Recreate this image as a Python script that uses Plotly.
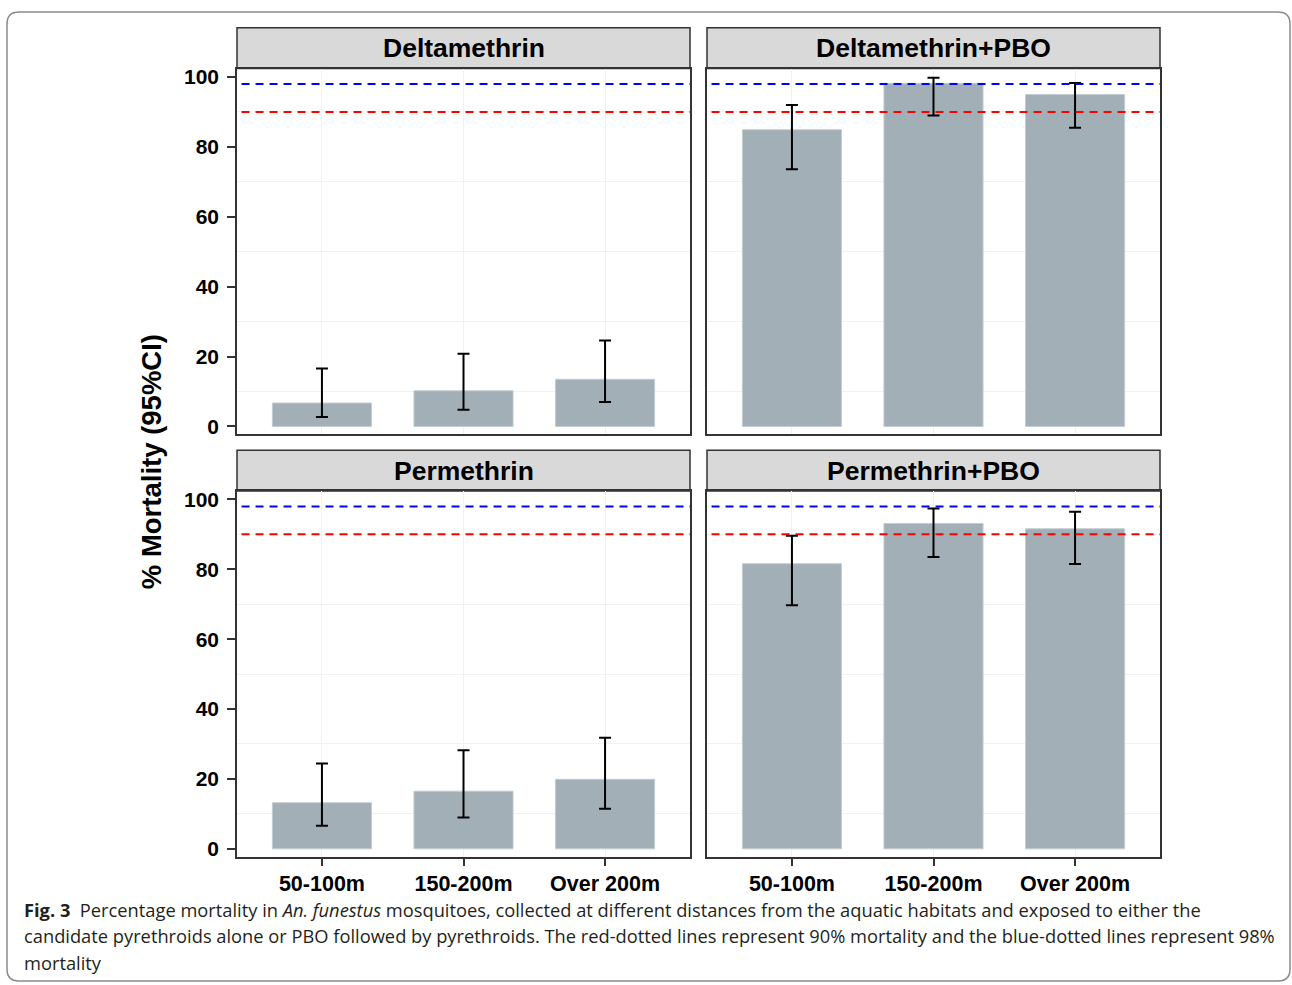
import plotly.graph_objects as go

W, H = 1292, 985

categories = ["50-100m", "150-200m", "Over 200m"]
panels = ["Deltamethrin", "Deltamethrin+PBO", "Permethrin", "Permethrin+PBO"]
mortality = {
    "Deltamethrin": [6.7, 10.2, 13.5],
    "Deltamethrin+PBO": [84.9, 98.2, 95.0],
    "Permethrin": [13.2, 16.5, 19.9],
    "Permethrin+PBO": [81.6, 93.1, 91.6],
}
ci_upper = {
    "Deltamethrin": [16.6, 20.8, 24.6],
    "Deltamethrin+PBO": [92.0, 99.8, 98.3],
    "Permethrin": [24.4, 28.2, 31.8],
    "Permethrin+PBO": [89.6, 97.4, 96.5],
}
ci_lower = {
    "Deltamethrin": [2.7, 4.8, 7.0],
    "Deltamethrin+PBO": [73.6, 89.0, 85.5],
    "Permethrin": [6.6, 9.0, 11.5],
    "Permethrin+PBO": [69.7, 83.5, 81.5],
}
threshold_90 = 90
threshold_98 = 98
y_ticks = [0, 20, 40, 60, 80, 100]

def px(x):
    return x / W

def py(y):
    return 1 - y / H

# pixel layout of panels: (x0, x1) columns, (y_top, y_bottom) rows of plot areas
col_x = [(237, 690), (707, 1160)]
row_y = [(66, 434), (491, 859)]
strip_h = 41

fig = go.Figure()
BAR = "#a3afb6"
EDGE = "#333333"

for i, name in enumerate(panels):
    r, c = divmod(i, 2)
    ax = "" if i == 0 else str(i + 1)
    vals = mortality[name]
    up = [u - v for u, v in zip(ci_upper[name], vals)]
    dn = [v - l for v, l in zip(vals, ci_lower[name])]
    fig.add_trace(go.Bar(
        x=categories, y=vals, width=0.7,
        marker=dict(color=BAR, line=dict(color="#c3ccd1", width=1)),
        error_y=dict(type="data", symmetric=False, array=up, arrayminus=dn,
                     color="black", thickness=2, width=6),
        xaxis="x" + ax, yaxis="y" + ax, showlegend=False,
    ))
    x0, x1 = col_x[c]
    yt, yb = row_y[r]
    xa = dict(domain=[px(x0), px(x1)], anchor="y" + ax, type="category",
              range=[-0.6, 2.6], showline=True, mirror=True, linecolor=EDGE,
              linewidth=1.5, showgrid=True, gridcolor="#f1f1f1", gridwidth=1,
              zeroline=False, fixedrange=True)
    if r == 1:
        xa.update(ticks="outside", ticklen=7, tickwidth=1.5, tickcolor=EDGE,
                  showticklabels=True,
                  tickfont=dict(family="Liberation Sans", size=21.5, color="black", weight="bold"))
    else:
        xa.update(ticks="", showticklabels=False)
    ya = dict(domain=[py(yb), py(yt)], anchor="x" + ax, range=[-2.27, 102.4],
              showline=True, mirror=True, linecolor=EDGE, linewidth=1.5,
              showgrid=False, zeroline=False, tickvals=y_ticks,
              minor=dict(tick0=10, dtick=20, showgrid=True, gridcolor="#f1f1f1",
                         gridwidth=1, ticks=""),
              fixedrange=True)
    if c == 0:
        ya.update(ticks="outside", ticklen=8, tickwidth=1.5, tickcolor=EDGE,
                  showticklabels=True, ticklabelstandoff=4,
                  tickfont=dict(family="Liberation Sans", size=21, color="black", weight="bold"))
    else:
        ya.update(ticks="", showticklabels=False)
    fig.layout["xaxis" + ax] = xa
    fig.layout["yaxis" + ax] = ya

    # threshold lines
    for val, col in [(threshold_98, "#0000ff"), (threshold_90, "#ff0000")]:
        fig.add_shape(type="line", xref="x" + ax + " domain", yref="y" + ax,
                      x0=0.01, x1=1, y0=val, y1=val,
                      line=dict(color=col, width=2, dash="8px,6px"), layer="above")
    # strip
    fig.add_shape(type="rect", xref="paper", yref="paper",
                  x0=px(x0), x1=px(x1), y0=py(yt), y1=py(yt - strip_h),
                  fillcolor="#d9d9d9", line=dict(color=EDGE, width=1.5), layer="below")
    fig.add_annotation(xref="paper", yref="paper", x=px((x0 + x1) / 2),
                       y=py(yt - strip_h / 2), text=name, showarrow=False,
                       xanchor="center", yanchor="middle",
                       font=dict(family="Liberation Sans", size=26.5, color="black", weight="bold"))

# y-axis title
fig.add_annotation(xref="paper", yref="paper", x=px(151), y=py(462),
                   text="% Mortality (95%CI)", textangle=-90, showarrow=False,
                   xanchor="center", yanchor="middle",
                   font=dict(family="Liberation Sans", size=27.5, color="black", weight="bold"))

# caption
cap_font = dict(family="Open Sans", size=18.3, color="#231f20")
caption_lines = [
    "<b>Fig. 3</b>  Percentage mortality in <i>An. funestus</i> mosquitoes, collected at different distances from the aquatic habitats and exposed to either the",
    "candidate pyrethroids alone or PBO followed by pyrethroids. The red-dotted lines represent 90% mortality and the blue-dotted lines represent 98%",
    "mortality",
]
for k, line in enumerate(caption_lines):
    fig.add_annotation(xref="paper", yref="paper", x=px(22), y=py(912 + 26.5 * k),
                       text=line, showarrow=False, xanchor="left", yanchor="middle",
                       font=cap_font)

# outer rounded border
R = 12
x0b, x1b, y0b, y1b = 7, 1290, 9, 984
path = (f"M {px(x0b)},{py(y1b - R)} L {px(x0b)},{py(y0b + R)} "
        f"Q {px(x0b)},{py(y0b)} {px(x0b + R)},{py(y0b)} "
        f"L {px(x1b - R)},{py(y0b)} Q {px(x1b)},{py(y0b)} {px(x1b)},{py(y0b + R)} "
        f"L {px(x1b)},{py(y1b - R)} Q {px(x1b)},{py(y1b)} {px(x1b - R)},{py(y1b)} "
        f"L {px(x0b + R)},{py(y1b)} Q {px(x0b)},{py(y1b)} {px(x0b)},{py(y1b - R)} Z")
fig.add_shape(type="path", xref="paper", yref="paper", path=path,
              line=dict(color="#8a8a8a", width=1.5), layer="below")

fig.update_layout(width=W, height=H, autosize=False,
                  margin=dict(l=0, r=0, t=0, b=0),
                  paper_bgcolor="white", plot_bgcolor="white",
                  bargap=0.3, showlegend=False)

fig.write_html("out.html")
